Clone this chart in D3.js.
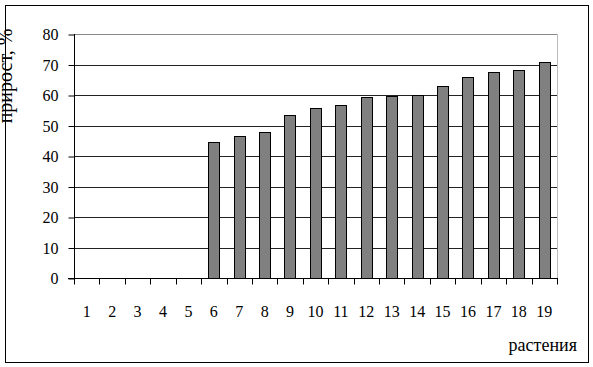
<!DOCTYPE html>
<html><head><meta charset="utf-8">
<script src="https://cdn.jsdelivr.net/npm/d3@7"></script>
<style>
body{margin:0;background:#fff;}
text{font-family:"Liberation Serif","Times New Roman",serif;font-size:16px;fill:#000;}
</style></head>
<body><svg id="c" width="593" height="367"></svg>
<script>
const categories = ["1","2","3","4","5","6","7","8","9","10","11","12","13","14","15","16","17","18","19"];
const values = [0,0,0,0,0,44.5,46.7,47.8,53.4,55.6,56.7,59.3,59.6,60,62.9,65.8,67.4,68.1,70.7];
const yTicks = [0,10,20,30,40,50,60,70,80];
const yTitle = "прирост, %";
const xTitle = "растения";

const svg = d3.select("#c");
const L = 74, R = 557, T = 34, B = 278;

svg.append("rect").attr("x",5.5).attr("y",5.5).attr("width",583).attr("height",357)
  .attr("fill","#fff").attr("stroke","#000");

const x = d3.scaleBand().domain(categories).range([L,R]).paddingInner(0.56).paddingOuter(0.28);
const xs = d3.scaleBand().domain(categories).range([L,R]);
const y = d3.scaleLinear().domain([0,80]).range([B,T]);

// gridlines
svg.append("g").selectAll("line").data(yTicks.filter(d=>d>0)).join("line")
  .attr("x1",L).attr("x2",R)
  .attr("y1",d=>Math.round(y(d))+0.5).attr("y2",d=>Math.round(y(d))+0.5)
  .attr("stroke",d=>d===80?"#888":"#222");
// right border of plot area
svg.append("line").attr("x1",R+0.5).attr("x2",R+0.5).attr("y1",T).attr("y2",B).attr("stroke","#bbb");

// bars
svg.append("g").selectAll("rect").data(values.map((v,i)=>({c:categories[i],v})).filter(d=>d.v>0)).join("rect")
  .attr("x",d=>Math.round(x(d.c))+0.5).attr("width",Math.round(x.bandwidth()))
  .attr("y",d=>Math.round(y(d.v))+0.5).attr("height",d=>B-Math.round(y(d.v)))
  .attr("fill","#808080").attr("stroke","#000");

// y axis
const ya = svg.append("g").attr("transform",`translate(${L+0.5},0)`)
  .call(d3.axisLeft(y).tickValues(yTicks).tickSize(6).tickPadding(10).tickFormat(d3.format("d")));
ya.select(".domain").attr("d",`M0,${T}V${B+0.5}`).attr("stroke","#000");
ya.selectAll(".tick line").attr("stroke","#000").attr("transform","translate(0,0.5)");
ya.selectAll(".tick text").attr("font-size",null).attr("font-family",null).attr("dy","0.35em");
ya.attr("font-size",null).attr("font-family",null);

// x axis
const xa = svg.append("g").attr("transform",`translate(0,${B+0.5})`);
xa.append("line").attr("x1",L-6).attr("x2",R+1).attr("stroke","#000");
xa.selectAll("line.t").data(categories.concat(["end"])).join("line").attr("class","t")
  .attr("x1",(d,i)=>Math.round(L+i*xs.step())+0.5).attr("x2",(d,i)=>Math.round(L+i*xs.step())+0.5)
  .attr("y1",0).attr("y2",6).attr("stroke","#000");
xa.selectAll("text").data(categories).join("text")
  .attr("x",d=>xs(d)+xs.bandwidth()/2).attr("y",38.5).attr("text-anchor","middle").text(d=>d);

svg.append("text").attr("x",577).attr("y",351).attr("text-anchor","end").style("font-size","18px").text(xTitle);
svg.append("text").attr("transform","translate(12,76) rotate(-90)").attr("text-anchor","middle").style("font-size","20px").text(yTitle);
</script></body></html>
